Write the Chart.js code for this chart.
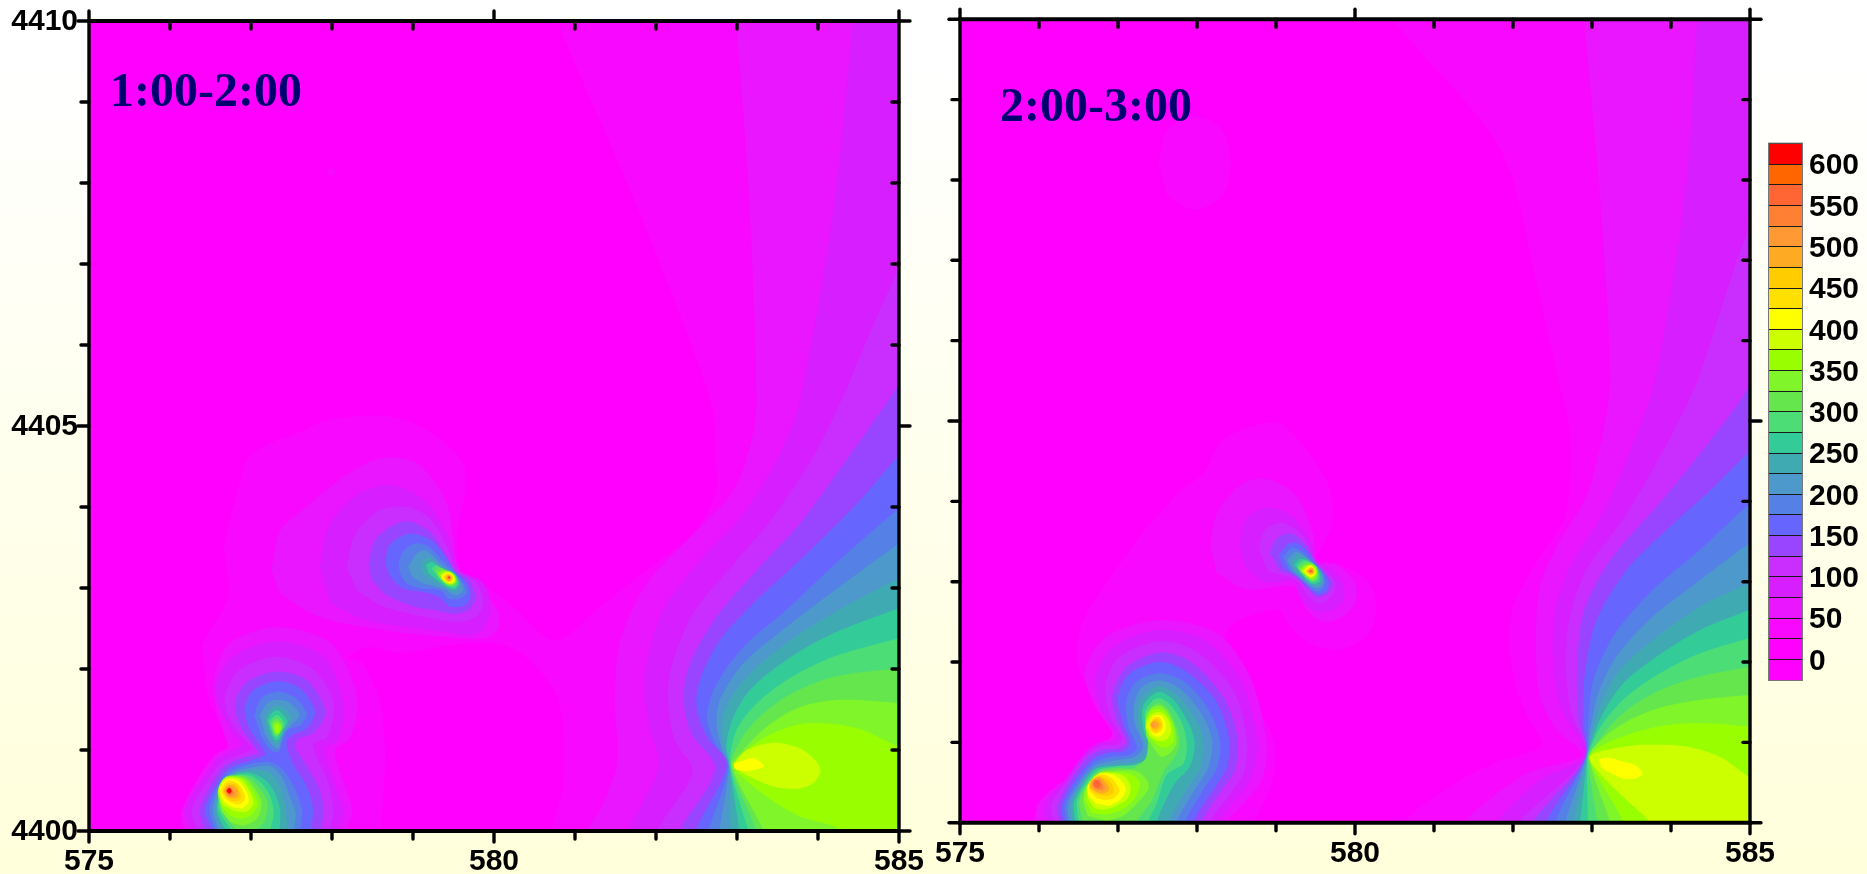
<!DOCTYPE html>
<html><head><meta charset="utf-8">
<script src="https://cdn.jsdelivr.net/npm/chart.js@4"></script>
<style>
html,body{margin:0;padding:0;width:1867px;height:874px;overflow:hidden;background:linear-gradient(180deg,#ffffff 0%,#ffffff 8%,#ffffdb 100%)}
canvas{position:absolute;left:0;top:0}
</style></head><body>
<canvas id="left" width="1867" height="874"></canvas>
<canvas id="right" width="1867" height="874"></canvas>
<canvas id="bar" width="1867" height="874"></canvas>
<script>
// Contour bands: index 0 is below 0, each next band is 25 units higher.
const bandColors=['#ff00ff','#ff00ff','#f808ff','#e916ff','#d61eff','#c92eff','#9944ff','#6666ff','#5580e6','#4d99cc','#40aab3','#33cc99','#4ddd77','#66e64d','#7ff52a','#99ff00','#ccff00','#ffff00','#ffe000','#ffcc00','#ffaa22','#ff9933','#ff7f33','#ff6633','#ff6600','#ff0000'];
const bandEdges=[-25,0,25,50,75,100,125,150,175,200,225,250,275,300,325,350,375,400,425,450,475,500,525,550,575,600,625];
const colorbarLabels=[0,50,100,150,200,250,300,350,400,450,500,550,600];
const xOrigin=575,yOrigin=4400;
const xMajor=[575,580,585],yMajor=[4400,4405,4410];
const panelTitles=['1:00-2:00','2:00-3:00'];

// Contour outlines: [band, [xKm,yKm,...]] as km east/north of the origin.
const baseField=[[1,[-1,-1,11,-1,11,11,-1,11]]];
const leftOutline=[
[2,[5.75,10.3,5.78,10,6.73,7.79,7.67,5.32,7.73,4.62,7.73,4.17,7.46,3.67,6.93,3.26,6.31,2.77,5.75,2.35,5.28,2.73,4.91,3.02,4.62,3.14,4.54,3.63,4.64,4.17,4.62,4.54,4.17,4.95,3.7,5.12,3.02,5.09,2.6,4.93,1.99,4.64,1.84,4.21,1.67,3.53,1.72,2.91,1.4,2.3,1.41,2.11,1.47,1.66,1.69,1.12,1.68,.94,1.37,.63,1.16,.3,1.12,0,1.1,-.4,10.4,-.4,10.4,10.3]],
[2,[2.93,8.13,2.99,8.19,3.05,8.13,2.99,8.07]],
[1,[3.18,2.15,3.43,2.27,3.84,2.2,4.5,2.3,5.1,2.3,5.45,2.1,5.8,1.6,5.85,.6,5.7,0,5.6,-.4,3.6,-.4,3.61,.01,3.65,.71,3.65,1.12,3.59,1.62,3.39,2.07],2.5]
];
const leftFan=[
[3,[7.97,10.3,7.99,10,8.15,7.8,8.24,5.32,8.18,4.83,7.96,4.21,7.46,3.67,6.89,3.06,6.56,2.36,6.49,1.62,6.52,.84,6.31,.26,6.15,0,6.05,-.4,10.4,-.4,10.4,10.3]],
[4,[9.45,10.3,9.43,10,9.21,7.8,8.78,5.32,8.53,4.66,8.08,3.92,7.59,3.39,7.09,2.73,6.87,1.95,6.91,1.33,7.03,.79,6.66,0,6.55,-.4,10.4,-.4,10.4,10.3]],
[5,[10.3,7.6,10,6.96,9.62,6.1,9.29,5.32,8.94,4.62,8.45,3.88,7.96,3.3,7.46,2.69,7.19,2.03,7.15,1.62,7.23,1.12,7.45,.73,7.01,0,6.9,-.4,10.4,-.4]],
[6,[10.3,6,9.87,5.32,9.35,4.58,8.78,3.8,8.28,3.26,7.75,2.65,7.42,2.07,7.34,1.62,7.44,1.2,7.73,.77,7.29,0,7.2,-.4,10.4,-.4]],
[7,[10.3,4.95,10,4.64,9.44,4,8.78,3.35,8.24,2.85,7.79,2.36,7.54,1.86,7.5,1.53,7.63,1.16,7.87,.83,7.49,0,7.4,-.4,10.4,-.4]],
[8,[10.3,4.2,10,3.98,9.27,3.35,8.61,2.73,8.08,2.27,7.75,1.82,7.63,1.41,7.73,1.08,7.89,.81,7.65,0,7.58,-.4,10.4,-.4]],
[9,[10.3,3.75,10,3.55,9.27,3.02,8.61,2.52,8.08,2.07,7.79,1.62,7.75,1.29,7.82,1,7.9,.8,7.78,0,7.72,-.4,10.4,-.4]],
[10,[10.3,3.25,10,3.12,9.19,2.69,8.61,2.32,8.12,1.9,7.85,1.49,7.82,1.16,7.91,.8,7.91,0,7.91,-.4,10.4,-.4]],
[11,[10.3,2.85,10,2.75,9.19,2.44,8.61,2.11,8.16,1.74,7.94,1.37,7.87,1.04,7.91,.8,8.03,0,8.1,-.4,10.4,-.4]],
[12,[10.3,2.45,10,2.38,9.19,2.15,8.61,1.86,8.2,1.53,7.98,1.21,7.92,.8,8.14,0,8.23,-.4,10.4,-.4]],
[13,[10.3,2.03,10,2.01,9.19,1.9,8.61,1.66,8.24,1.37,8.02,1.08,7.93,.8,8.24,0,8.35,-.4,10.4,-.4]],
[14,[10.3,1.53,10,1.58,9.27,1.62,8.78,1.53,8.37,1.29,8.08,1,7.94,.8,8.33,0,8.45,-.4,10.4,-.4]],
[15,[10.3,.95,10,1.04,9.48,1.27,8.86,1.33,8.45,1.21,8.12,1,7.96,.81,8.04,.69,8.37,.42,8.78,.18,9.27,.02,9.6,-.4,10.4,-.4]],
[16,[7.96,.83,8.12,1,8.45,1.09,8.78,1.02,8.98,.86,9.03,.73,8.94,.59,8.74,.52,8.45,.55,8.16,.67,7.98,.77]],
[17,[7.96,.83,8.08,.87,8.19,.9,8.28,.86,8.33,.8,8.24,.76,8.08,.74,7.97,.77]]
];
const leftCluster=[
[3,[1.19,0,1.14,.22,1.37,.69,1.56,.94,1.72,1.04,1.68,1.16,1.56,1.58,1.56,1.95,1.74,2.32,2.32,2.52,2.98,2.32,3.31,1.66,3.23,1.16,3.04,1,3.1,.71,3.25,.26,3.18,0,3.17,-.4,1.1,-.4]],
[4,[1.27,0,1.19,.26,1.43,.67,1.6,.9,1.82,1.02,1.89,1.08,1.78,1.2,1.64,1.47,1.56,1.78,1.78,2.15,2.32,2.34,2.9,2.15,3.14,1.58,3.08,1.12,2.92,1.02,3.02,.63,3.14,.26,3.08,0,3.07,-.4,1.2,-.4]],
[5,[1.35,0,1.27,.26,1.47,.63,1.64,.85,1.91,.96,2.01,1.02,1.93,1.12,1.74,1.37,1.68,1.66,1.86,1.99,2.32,2.15,2.77,1.99,3.02,1.58,2.94,1.16,2.77,1.08,2.81,.92,2.94,.63,3.02,.26,2.98,0,2.97,-.4,1.3,-.4]],
[6,[1.43,0,1.37,.26,1.52,.59,1.68,.81,1.95,.92,2.09,.96,2.03,1.06,1.87,1.29,1.8,1.58,1.95,1.84,2.32,1.97,2.69,1.86,2.92,1.47,2.77,1.21,2.59,1.14,2.55,1.04,2.67,.83,2.83,.55,2.9,.26,2.86,0,2.85,-.4,1.4,-.4]],
[7,[1.52,.01,1.43,.26,1.56,.55,1.72,.77,1.99,.87,2.17,.94,2.13,1.04,1.99,1.25,1.92,1.51,2.03,1.74,2.32,1.85,2.61,1.76,2.79,1.47,2.69,1.27,2.5,1.18,2.44,1.08,2.52,.83,2.69,.55,2.77,.26,2.74,0,2.73,-.4,1.5,-.4]],
[8,[2.04,1.43,2.13,1.64,2.32,1.72,2.52,1.66,2.69,1.45,2.61,1.31,2.46,1.25,2.38,1.08,2.34,.98,2.24,1,2.13,1.16]],
[9,[2.11,1.43,2.2,1.58,2.32,1.62,2.48,1.58,2.6,1.43,2.5,1.31,2.4,1.2,2.34,1.02,2.26,1.06,2.17,1.2]],
[10,[2.17,1.41,2.24,1.51,2.33,1.55,2.44,1.49,2.5,1.39,2.44,1.31,2.38,1.16,2.32,1.07,2.26,1.12,2.2,1.25]],
[11,[2.2,1.37,2.26,1.46,2.33,1.49,2.4,1.43,2.45,1.35,2.4,1.25,2.35,1.14,2.3,1.12,2.25,1.2]],
[12,[2.23,1.35,2.28,1.41,2.33,1.43,2.39,1.37,2.41,1.31,2.37,1.23,2.32,1.16,2.28,1.18,2.25,1.27]],
[13,[2.25,1.33,2.3,1.38,2.34,1.38,2.38,1.33,2.39,1.28,2.35,1.2,2.31,1.18,2.27,1.25]],
[14,[2.27,1.31,2.31,1.35,2.35,1.33,2.38,1.28,2.34,1.2,2.3,1.2,2.28,1.25]],
[15,[2.29,1.28,2.32,1.32,2.35,1.29,2.34,1.21,2.31,1.22]],
[8,[1.56,0,1.49,.26,1.58,.525,1.74,.73,1.99,.825,2.24,.85,2.4,.75,2.55,.5,2.63,.26,2.61,0,2.6,-.4,1.56,-.4]],
[9,[1.6,0,1.53,.26,1.61,.525,1.75,.7,1.99,.78,2.24,.8,2.38,.67,2.48,.42,2.55,.22,2.53,0,2.53,-.4,1.6,-.4]],
[10,[1.64,0,1.56,.26,1.63,.525,1.76,.69,1.99,.75,2.2,.73,2.34,.59,2.42,.34,2.45,0,2.45,-.4,1.64,-.4]],
[11,[1.69,0,1.58,.26,1.64,.525,1.77,.68,1.97,.72,2.15,.65,2.28,.5,2.36,.26,2.35,0,2.35,-.4,1.69,-.4]],
[12,[1.76,0,1.6,.28,1.64,.51,1.77,.67,1.97,.69,2.13,.59,2.24,.42,2.28,.22,2.24,0,2.24,-.4,1.76,-.4]],
[13,[1.83,0,1.64,.26,1.6,.5,1.7,.66,1.93,.68,2.09,.55,2.2,.36,2.17,.13,2.07,0,2.07,-.4,1.83,-.4]],
[14,[1.64,.24,1.59,.5,1.69,.67,1.91,.66,2.05,.52,2.13,.34,2.07,.15,1.91,.07,1.74,.11]],
[15,[1.65,.28,1.6,.5,1.69,.66,1.89,.65,2.02,.5,2.08,.34,2.01,.2,1.87,.15,1.74,.19]],
[16,[1.65,.32,1.6,.5,1.69,.65,1.87,.64,1.99,.48,2.03,.34,1.95,.24,1.8,.24]],
[17,[1.67,.36,1.61,.5,1.7,.64,1.84,.62,1.95,.48,1.97,.36,1.89,.28,1.76,.3]],
[18,[1.68,.4,1.63,.5,1.71,.62,1.83,.59,1.91,.48,1.92,.38,1.84,.33,1.76,.35]],
[19,[1.7,.42,1.65,.5,1.72,.59,1.82,.57,1.87,.47,1.87,.39,1.8,.37,1.74,.38]],
[20,[1.7,.43,1.67,.5,1.73,.57,1.8,.55,1.85,.46,1.82,.41,1.76,.4]],
[21,[1.71,.44,1.68,.5,1.73,.55,1.78,.52,1.82,.46,1.79,.43,1.74,.42]],
[22,[1.71,.45,1.69,.5,1.73,.54,1.77,.5,1.78,.46,1.75,.44]],
[23,[1.71,.47,1.69,.5,1.73,.53,1.77,.5,1.76,.47,1.73,.45]],
[25,[1.7,.495,1.73,.53,1.76,.495,1.73,.46]]
];
const leftMidSpot=[
[3,[2.25,3.22,2.36,3.71,2.61,3.94,3.14,4.37,3.59,4.6,4.05,4.54,4.42,4.04,4.56,3.26,4.85,2.97,5.04,2.73,5.06,2.52,4.89,2.38,4.34,2.4,3.64,2.48,2.85,2.64,2.36,2.93]],
[4,[2.85,3.26,2.96,3.76,3.31,4.15,3.72,4.27,4.13,4.09,4.44,3.63,4.55,3.24,4.87,3.06,4.95,2.77,4.87,2.5,4.71,2.42,4.25,2.48,3.43,2.6,2.98,2.81]],
[5,[3.18,3.26,3.29,3.67,3.59,3.96,3.92,4,4.21,3.86,4.44,3.47,4.54,3.23,4.79,3.06,4.87,2.81,4.77,2.64,4.54,2.58,4.17,2.64,3.64,2.77,3.31,2.97]],
[6,[3.45,3.3,3.53,3.59,3.76,3.78,3.96,3.82,4.21,3.69,4.42,3.38,4.52,3.22,4.69,3.1,4.77,2.89,4.69,2.73,4.5,2.68,4.25,2.73,4.01,2.77,3.68,2.91,3.49,3.1]],
[7,[3.66,3.3,3.7,3.51,3.84,3.63,4.01,3.67,4.25,3.57,4.46,3.3,4.52,3.2,4.65,3.08,4.71,2.93,4.65,2.79,4.46,2.77,4.32,2.89,4.13,2.95,3.88,2.99,3.72,3.14]],
[8,[3.82,3.3,3.88,3.45,4.03,3.55,4.19,3.51,4.38,3.32,4.5,3.2,4.62,3.06,4.67,2.95,4.58,2.87,4.44,2.87,4.34,2.97,4.13,2.99,3.92,3.06,3.84,3.18]],
[9,[3.94,3.26,4.05,3.43,4.17,3.46,4.34,3.3,4.5,3.18,4.6,3.06,4.62,2.97,4.52,2.91,4.38,2.99,4.13,3.06,3.99,3.14]],
[10,[4.09,3.3,4.19,3.38,4.34,3.26,4.5,3.19,4.58,3.06,4.54,2.96,4.42,2.99,4.23,3.1,4.11,3.18]],
[11,[4.16,3.28,4.23,3.32,4.36,3.24,4.51,3.18,4.57,3.06,4.52,2.99,4.42,3.01,4.27,3.12,4.19,3.19]],
[12,[4.23,3.24,4.29,3.28,4.38,3.22,4.51,3.17,4.55,3.06,4.51,3.01,4.42,3.03,4.32,3.12]],
[13,[4.27,3.22,4.34,3.25,4.44,3.2,4.52,3.16,4.54,3.07,4.49,3.03,4.41,3.04,4.33,3.12]],
[14,[4.3,3.19,4.38,3.22,4.46,3.2,4.52,3.14,4.53,3.07,4.48,3.04,4.41,3.06,4.34,3.11]],
[15,[4.33,3.17,4.4,3.21,4.48,3.19,4.52,3.13,4.52,3.07,4.47,3.04,4.4,3.06,4.35,3.11]],
[16,[4.34,3.16,4.41,3.2,4.48,3.18,4.52,3.12,4.51,3.07,4.46,3.05,4.4,3.07,4.36,3.11]],
[17,[4.35,3.15,4.41,3.19,4.47,3.18,4.51,3.12,4.5,3.08,4.45,3.06,4.4,3.08,4.365,3.11]],
[18,[4.37,3.14,4.42,3.18,4.47,3.17,4.5,3.12,4.48,3.08,4.44,3.07,4.4,3.09]],
[19,[4.385,3.13,4.42,3.17,4.46,3.16,4.49,3.13,4.47,3.09,4.44,3.08,4.41,3.1]],
[20,[4.405,3.13,4.43,3.16,4.46,3.15,4.48,3.12,4.46,3.09,4.43,3.09]],
[22,[4.42,3.13,4.445,3.15,4.465,3.13,4.45,3.105,4.43,3.11]],
[25,[4.435,3.13,4.445,3.14,4.455,3.13,4.445,3.12]]
];

const rightOutline=[
[2,[5.4,10.3,5.48,10,6.84,8.38,7.3,6.7,7.57,5.51,7.7,4.97,7.72,4.35,7.64,3.77,7.26,3.19,7,2.69,6.95,2.19,7.05,1.65,7.19,1.32,7.36,1.01,7.34,.93,6.75,.74,6.33,.53,5.63,.02,5.5,-.4,10.4,-.4,10.4,10.3]],
[2,[2.51,8.2,2.62,8.62,2.97,8.79,3.32,8.62,3.43,8.2,3.32,7.8,2.97,7.63,2.62,7.8]],
[2,[2.79,4.14,3.08,4.35,3.33,4.77,4,4.98,4.39,4.64,4.69,4.14,4.7,3.69,4.52,3.27,4.77,3.23,5.15,3.02,5.27,2.69,5.15,2.32,4.77,2.15,4.43,2.23,4.18,2.44,4.01,2.65,3.42,2.44,3.35,2.07,3.42,1.86,3.75,1.45,3.98,1,3.95,.5,3.73,0,3.65,-.4,.9,-.4,.92,0,1.01,.2,1.39,.49,1.58,.62,1.77,.87,1.92,1.11,1.88,1.32,1.6,1.7,1.48,2.03,1.55,2.5,1.9,3.05,2.3,3.6]]
];
const rightFan=[
[3,[7.88,10.3,7.9,10,8.1,7.8,8.23,5.51,8.12,4.77,7.93,4.06,7.6,3.52,7.34,2.94,7.29,2.19,7.34,1.57,7.55,1.16,7.87,.84,7.17,.61,6.37,0,6.2,-.4,10.4,-.4,10.4,10.3]],
[4,[9.36,10.3,9.33,10,9.2,8,8.8,5.51,8.52,4.72,8.14,3.85,7.72,3.19,7.53,2.61,7.51,1.99,7.6,1.45,7.89,.84,7.34,.53,6.79,0,6.6,-.4,10.4,-.4,10.4,10.3]],
[5,[10.3,8,10,7.43,9.7,6.6,9.34,5.51,8.95,4.72,8.44,3.85,7.93,3.15,7.7,2.48,7.67,1.86,7.74,1.36,7.91,.83,7.07,0,6.9,-.4,10.4,-.4]],
[6,[10.3,6.2,9.96,5.39,9.37,4.6,8.82,3.94,8.23,3.27,7.89,2.61,7.81,1.86,7.83,1.28,7.92,.82,7.24,0,7.1,-.4,10.4,-.4]],
[7,[10.3,4.9,9.99,4.62,9.54,4.18,8.95,3.65,8.44,3.15,8.06,2.53,7.91,1.86,7.89,1.24,7.92,.81,7.41,0,7.3,-.4,10.4,-.4]],
[8,[10.3,4.15,9.99,3.96,9.37,3.4,8.73,2.86,8.27,2.32,8.02,1.78,7.95,1.24,7.92,.81,7.53,0,7.45,-.4,10.4,-.4]],
[9,[10.3,3.7,9.99,3.48,9.37,3.02,8.73,2.53,8.31,2.07,8.08,1.61,7.97,1.11,7.93,.81,7.66,0,7.6,-.4,10.4,-.4]],
[10,[10.3,3.1,9.99,2.98,9.37,2.69,8.78,2.28,8.35,1.9,8.12,1.49,7.99,1.07,7.93,.8,7.76,0,7.7,-.4,10.4,-.4]],
[11,[10.3,2.78,9.99,2.65,9.37,2.4,8.82,2.07,8.4,1.74,8.14,1.36,7.98,.97,7.94,.8,7.85,0,7.8,-.4,10.4,-.4]],
[12,[10.3,2.4,9.99,2.3,9.37,2.11,8.86,1.86,8.44,1.57,8.14,1.24,7.98,.93,7.94,.8,7.95,0,7.97,-.4,10.4,-.4]],
[13,[10.3,2.02,9.99,1.94,9.37,1.82,8.86,1.65,8.48,1.43,8.19,1.16,8,.89,7.95,.8,8.07,0,8.14,-.4,10.4,-.4]],
[14,[10.3,1.62,9.99,1.59,9.37,1.53,8.86,1.43,8.44,1.26,8.14,1.05,7.97,.82,8.23,0,8.32,-.4,10.4,-.4]],
[15,[10.3,1.2,9.99,1.2,9.37,1.24,8.86,1.2,8.44,1.09,8.14,.97,7.97,.82,8.1,.53,8.4,0,8.5,-.4,10.4,-.4]],
[16,[10.3,.45,9.99,.57,9.62,.82,9.2,.95,8.69,.97,8.31,.93,7.97,.82,8.14,.57,8.44,.28,8.73,0,8.85,-.4,10.4,-.4]],
[17,[8.09,.79,8.19,.81,8.4,.76,8.54,.72,8.64,.61,8.54,.55,8.4,.55,8.25,.61,8.12,.68]]
];
const rightCluster=[
[3,[.95,0,.99,.24,1.27,.49,1.56,.66,1.67,.84,1.77,.99,1.9,1.05,1.92,1.13,1.69,1.49,1.58,1.9,1.86,2.32,2.53,2.52,3.25,2.36,3.67,1.82,3.88,1,3.82,.53,3.59,.24,3.38,0,3.35,-.4,.9,-.4]],
[4,[1.08,0,1.08,.24,1.31,.51,1.58,.87,1.75,.99,1.94,1.01,1.98,1.09,1.79,1.4,1.71,1.78,1.94,2.19,2.53,2.4,3.12,2.26,3.57,1.74,3.76,1.03,3.69,.57,3.48,.28,3.27,0,3.25,-.4,1.05,-.4]],
[5,[1.18,0,1.16,.24,1.35,.51,1.6,.84,1.77,.95,1.98,.97,2.05,1.05,1.9,1.32,1.84,1.7,2.02,2.07,2.53,2.26,2.99,2.13,3.46,1.65,3.63,1.03,3.59,.62,3.4,.33,3.16,0,3.14,-.4,1.15,-.4]],
[6,[1.27,0,1.23,.2,1.39,.51,1.62,.82,1.81,.91,2.02,.93,2.1,1.01,1.98,1.28,1.93,1.61,2.11,1.94,2.53,2.12,2.91,2.01,3.33,1.57,3.51,1.07,3.48,.66,3.29,.37,3.06,0,3.04,-.4,1.25,-.4]],
[7,[1.31,0,1.29,.2,1.43,.49,1.67,.78,1.86,.87,2.07,.89,2.15,.99,2.05,1.28,2,1.57,2.15,1.86,2.53,2,2.87,1.88,3.23,1.53,3.4,1.07,3.38,.7,3.21,.41,2.95,0,2.93,-.4,1.3,-.4]],
[8,[1.35,0,1.33,.22,1.48,.49,1.69,.74,1.9,.82,2.13,.84,2.24,.93,2.13,1.2,2.11,1.53,2.24,1.76,2.53,1.86,2.83,1.76,3.12,1.45,3.29,1.03,3.25,.68,3.08,.41,2.85,0,2.83,-.4,1.33,-.4]],
[9,[1.38,0,1.37,.22,1.5,.47,1.7,.7,1.94,.77,2.21,.82,2.32,.95,2.21,1.24,2.21,1.51,2.32,1.7,2.53,1.77,2.78,1.67,3.04,1.38,3.19,1.03,3.14,.68,2.97,.41,2.74,0,2.72,-.4,1.38,-.4]],
[10,[1.41,0,1.41,.24,1.53,.47,1.71,.68,1.98,.73,2.24,.77,2.36,.91,2.26,1.22,2.27,1.49,2.38,1.63,2.53,1.7,2.74,1.59,2.95,1.34,3.08,1.03,3.04,.68,2.87,.41,2.64,0,2.62,-.4,1.41,-.4]],
[11,[1.46,0,1.44,.24,1.55,.46,1.72,.67,2.02,.71,2.3,.73,2.41,.87,2.32,1.18,2.31,1.43,2.41,1.57,2.53,1.63,2.7,1.53,2.87,1.28,2.97,1.01,2.91,.7,2.72,.49,2.49,0,2.47,-.4,1.46,-.4]],
[12,[1.5,0,1.48,.26,1.57,.45,1.74,.65,1.98,.7,2.21,.72,2.38,.82,2.36,1.16,2.34,1.38,2.43,1.51,2.53,1.55,2.66,1.47,2.81,1.24,2.87,.99,2.83,.74,2.62,.6,2.49,.24,2.38,0,2.36,-.4,1.5,-.4]],
[13,[1.56,0,1.51,.26,1.59,.45,1.75,.63,1.98,.68,2.19,.68,2.35,.8,2.38,1.07,2.35,1.34,2.43,1.45,2.53,1.49,2.64,1.4,2.74,1.2,2.78,.99,2.72,.82,2.58,.64,2.43,.28,2.24,0,2.22,-.4,1.56,-.4]],
[14,[1.62,.08,1.56,.26,1.6,.45,1.76,.62,1.98,.65,2.24,.64,2.38,.51,2.38,.41,2.24,.24,2.07,.09,1.86,.02]],
[14,[2.36,1.07,2.35,1.28,2.43,1.43,2.55,1.45,2.64,1.36,2.72,1.18,2.74,.99,2.66,.87,2.55,.82,2.45,.93]],
[15,[1.67,.12,1.59,.28,1.61,.45,1.76,.62,1.96,.63,2.17,.6,2.28,.49,2.21,.3,2.05,.16,1.86,.1]],
[15,[2.38,1.09,2.36,1.28,2.43,1.4,2.55,1.41,2.64,1.32,2.7,1.16,2.7,1.01,2.62,.94,2.53,.95,2.43,1.03]],
[16,[1.7,.18,1.62,.3,1.62,.45,1.76,.61,1.94,.62,2.09,.57,2.16,.45,2.12,.3,1.96,.2,1.81,.16]],
[16,[2.35,1.18,2.37,1.28,2.44,1.36,2.55,1.37,2.64,1.28,2.67,1.13,2.62,1.04,2.51,1.02,2.41,1.07]],
[17,[1.72,.24,1.62,.35,1.62,.47,1.76,.61,1.93,.6,2.05,.51,2.1,.41,2.02,.28,1.88,.21]],
[17,[2.38,1.2,2.45,1.33,2.55,1.33,2.6,1.24,2.59,1.13,2.51,1.07,2.43,1.1]],
[18,[1.74,.3,1.64,.39,1.64,.49,1.76,.6,1.9,.57,1.99,.47,2.02,.39,1.94,.3,1.84,.28]],
[18,[2.39,1.22,2.45,1.31,2.53,1.31,2.57,1.22,2.55,1.15,2.47,1.1,2.41,1.15]],
[19,[1.73,.35,1.65,.42,1.65,.51,1.76,.58,1.87,.54,1.94,.45,1.94,.37,1.85,.33]],
[19,[2.41,1.23,2.46,1.29,2.52,1.28,2.55,1.21,2.52,1.16,2.47,1.13,2.42,1.16]],
[20,[1.73,.38,1.65,.44,1.67,.53,1.76,.57,1.84,.51,1.89,.43,1.86,.38,1.79,.36]],
[20,[2.41,1.24,2.46,1.27,2.51,1.25,2.52,1.21,2.49,1.17,2.44,1.17]],
[21,[1.72,.4,1.67,.46,1.69,.53,1.76,.55,1.81,.5,1.85,.43,1.81,.39]],
[21,[2.41,1.21,2.44,1.25,2.47,1.21,2.44,1.18]],
[22,[1.71,.43,1.68,.48,1.71,.53,1.76,.53,1.8,.48,1.81,.43,1.76,.41]],
[23,[1.7,.45,1.69,.5,1.72,.53,1.76,.52,1.78,.46,1.74,.43]]
];
const rightMidSpot=[
[3,[3.17,3.44,3.25,3.85,3.59,4.23,3.92,4.27,4.26,4.06,4.47,3.6,4.52,3.25,4.77,3.21,5,2.98,5,2.73,4.85,2.57,4.6,2.5,4.39,2.65,4.22,2.94,3.63,2.9,3.25,3.11]],
[4,[3.54,3.44,3.61,3.77,3.88,3.92,4.18,3.83,4.41,3.56,4.52,3.25,4.68,3.17,4.85,2.98,4.85,2.77,4.68,2.63,4.47,2.65,4.3,2.82,4.24,3,3.84,3,3.61,3.19]],
[5,[3.78,3.4,3.86,3.65,4.09,3.73,4.35,3.56,4.49,3.27,4.64,3.13,4.75,3,4.72,2.84,4.56,2.73,4.41,2.82,4.28,3,4.14,3.06,3.9,3.13]],
[6,[3.92,3.36,4.01,3.54,4.2,3.6,4.39,3.44,4.49,3.25,4.6,3.13,4.72,2.98,4.66,2.86,4.52,2.81,4.41,2.9,4.24,3.06,4.05,3.13]],
[7,[4.03,3.33,4.14,3.46,4.26,3.48,4.41,3.36,4.52,3.21,4.66,3.02,4.64,2.88,4.52,2.84,4.41,2.94,4.24,3.09,4.09,3.17]],
[8,[4.09,3.31,4.2,3.42,4.33,3.37,4.45,3.25,4.58,3.13,4.62,2.98,4.56,2.88,4.45,2.91,4.35,3,4.18,3.13]],
[9,[4.14,3.27,4.24,3.37,4.35,3.33,4.47,3.23,4.58,3.11,4.6,2.98,4.54,2.92,4.45,2.94,4.35,3.02,4.21,3.14]],
[10,[4.2,3.24,4.27,3.33,4.37,3.3,4.48,3.22,4.57,3.11,4.58,3,4.52,2.94,4.43,2.98,4.33,3.06,4.24,3.14]],
[11,[4.23,3.21,4.3,3.28,4.39,3.27,4.49,3.21,4.55,3.11,4.56,3.01,4.49,2.97,4.41,3,4.33,3.09]],
[12,[4.26,3.19,4.34,3.26,4.41,3.25,4.49,3.2,4.54,3.11,4.53,3.02,4.47,2.99,4.4,3.03,4.31,3.11]],
[13,[4.28,3.17,4.35,3.23,4.43,3.24,4.51,3.19,4.53,3.11,4.52,3.03,4.46,3.01,4.39,3.05,4.33,3.11]],
[14,[4.3,3.15,4.37,3.21,4.44,3.22,4.51,3.18,4.52,3.11,4.5,3.04,4.45,3.02,4.38,3.06]],
[15,[4.32,3.14,4.38,3.2,4.44,3.21,4.5,3.17,4.52,3.11,4.49,3.06,4.44,3.04,4.38,3.08]],
[16,[4.33,3.13,4.39,3.19,4.44,3.2,4.49,3.16,4.51,3.11,4.48,3.07,4.44,3.05,4.38,3.09]],
[17,[4.355,3.13,4.4,3.18,4.45,3.2,4.49,3.15,4.5,3.11,4.47,3.07,4.43,3.06,4.39,3.09]],
[18,[4.37,3.13,4.41,3.17,4.45,3.19,4.49,3.15,4.49,3.11,4.46,3.08,4.42,3.08]],
[19,[4.385,3.13,4.42,3.17,4.45,3.18,4.48,3.14,4.48,3.11,4.45,3.09,4.42,3.09]],
[20,[4.39,3.13,4.43,3.16,4.46,3.17,4.48,3.14,4.46,3.1,4.43,3.1]],
[21,[4.4,3.13,4.43,3.15,4.46,3.15,4.47,3.13,4.46,3.11,4.43,3.11]],
[23,[4.415,3.13,4.44,3.15,4.465,3.13,4.44,3.11]]
];

const ink='#000';
const labelFont={family:"'Liberation Sans'",weight:'bold',size:30};
function toDatasets(groups){
  const all=groups.flat().map(([band,flat,rank])=>({band,flat,rank:rank===undefined?band:rank}));
  all.sort((a,b)=>a.rank-b.rank);
  return all.map(({band,flat},i)=>{
    const data=[];
    for(let k=0;k<flat.length;k+=2)data.push({x:xOrigin+flat[k],y:yOrigin+flat[k+1]});
    return {data,order:all.length-i,backgroundColor:bandColors[band],borderColor:'rgba(0,0,0,0)',borderWidth:0,pointRadius:0,pointHitRadius:0,fill:'shape',tension:0.3};
  });
}
// Frame and tick marks, placed from the chart's own scales.
const framePlugin={id:'frame',afterDatasetsDraw(chart,_,o){
  const {ctx,chartArea:a,scales:{x,y}}=chart;
  ctx.save();ctx.strokeStyle=ink;ctx.lineCap='round';ctx.lineWidth=3.4;
  const seg=(x1,y1,x2,y2)=>{ctx.beginPath();ctx.moveTo(x1,y1);ctx.lineTo(x2,y2);ctx.stroke();};
  for(let v=575;v<=585;v++){
    const p=x.getPixelForValue(v),m=xMajor.includes(v);
    seg(p,a.bottom,p,a.bottom+(m?11:8));
    seg(p,a.top,p,a.top+(m?-10:8));
  }
  for(let v=4400;v<=4410;v++){
    const p=y.getPixelForValue(v),m=yMajor.includes(v);
    seg(a.left,p,a.left-(m?11:8),p);
    seg(a.right,p,a.right+(m?11:-7),p);
  }
  ctx.lineCap='butt';ctx.lineWidth=3.4;
  seg(a.left,a.top-1,a.left,a.bottom+1);seg(a.right,a.top-1,a.right,a.bottom+1);
  ctx.lineWidth=4;
  seg(a.left-2,a.top,a.right+2,a.top);seg(a.left-2,a.bottom,a.right+2,a.bottom);
  ctx.fillStyle='#00006e';ctx.font="bold 48px 'Liberation Serif'";ctx.textBaseline='alphabetic';ctx.textAlign='left';
  ctx.fillText(o.title,a.left+o.tx,a.top+o.ty);
  ctx.restore();
}};
function panel(id,groups,box,title,tx,ty,yLabels,xPad){
  new Chart(document.getElementById(id),{
    type:'line',
    data:{datasets:toDatasets(groups)},
    plugins:[framePlugin],
    options:{
      responsive:false,animation:false,events:[],
      layout:{padding:{left:0,top:box.top,right:1867-box.right,bottom:0}},
      plugins:{legend:{display:false},tooltip:{enabled:false},title:{display:false},frame:{title,tx,ty}},
      scales:{
        x:{type:'linear',min:575,max:585,afterFit:s=>{s.height=874-box.bottom;s.paddingLeft=0;s.paddingRight=0;},
          grid:{display:false,drawTicks:false},border:{display:false},
          ticks:{stepSize:1,autoSkip:false,maxRotation:0,padding:xPad,color:ink,font:labelFont,
            callback:v=>xMajor.includes(v)?String(v):''}},
        y:{type:'linear',min:4400,max:4410,afterFit:s=>{s.width=box.left;s.paddingTop=0;s.paddingBottom=0;},
          grid:{display:false,drawTicks:false},border:{display:false},
          ticks:{stepSize:1,autoSkip:false,padding:11,labelOffset:1,color:ink,font:labelFont,
            callback:v=>yLabels&&yMajor.includes(v)?String(v):''}}
      }
    }
  });
}
panel('left',[baseField,leftOutline,leftFan,leftCluster,leftMidSpot],{left:89,right:899,top:21,bottom:831},panelTitles[0],21,85,true,13);
panel('right',[baseField,rightOutline,rightFan,rightCluster,rightMidSpot],{left:960,right:1750,top:19.3,bottom:822.7},panelTitles[1],40,102,false,13);

// Colour key
const keyOutline={id:'keyOutline',afterDraw(chart){
  const {ctx,chartArea:a}=chart;ctx.save();ctx.strokeStyle='#777';ctx.lineWidth=1;
  ctx.strokeRect(a.left-.5,a.top-.5,a.right-a.left+1,a.bottom-a.top+1);ctx.restore();
}};
new Chart(document.getElementById('bar'),{
  type:'bar',
  data:{labels:['band'],datasets:bandColors.map((c,i)=>({data:[[bandEdges[i],bandEdges[i+1]]],backgroundColor:c,borderWidth:0,barPercentage:1,categoryPercentage:1,grouped:false}))},
  plugins:[keyOutline],
  options:{
    responsive:false,animation:false,events:[],
    layout:{padding:{left:1769,top:143.6,right:0,bottom:194}},
    plugins:{legend:{display:false},tooltip:{enabled:false}},
    scales:{
      x:{display:false,grid:{display:false}},
      y:{position:'right',min:-25,max:625,afterFit:s=>{s.width=65;s.paddingTop=0;s.paddingBottom=0;},
        border:{display:false},
        grid:{color:'#1a1a1a',lineWidth:1,drawTicks:false,z:1},
        ticks:{stepSize:25,autoSkip:false,padding:7,labelOffset:2,color:ink,font:labelFont,
          callback:v=>colorbarLabels.includes(v)?String(v):''}}
    }
  }
});
</script>
</body></html>
